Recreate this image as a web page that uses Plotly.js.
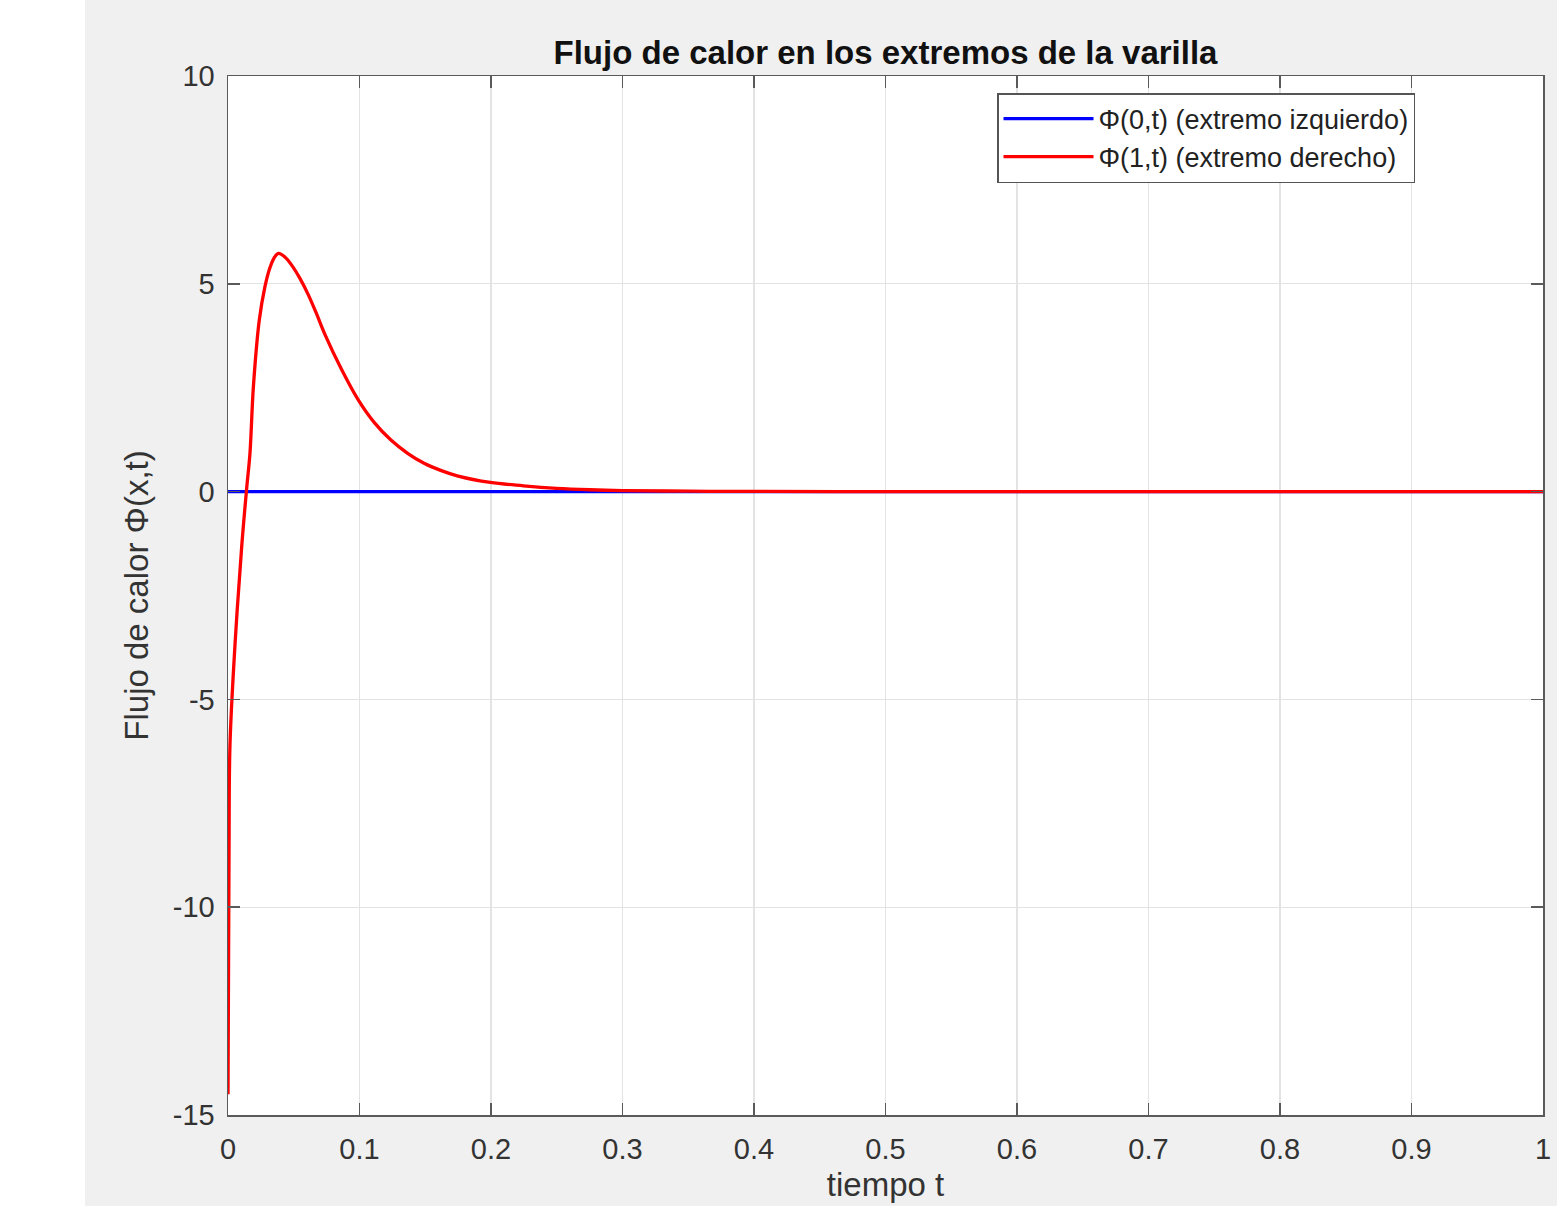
<!DOCTYPE html>
<html>
<head>
<meta charset="utf-8">
<script src="https://cdn.plot.ly/plotly-3.0.1.min.js"></script>
<style>
  html, body { margin: 0; padding: 0; background: #ffffff; }
  #chart { position: absolute; left: 85px; top: 0; width: 1472px; height: 1206px; }
</style>
</head>
<body>
<div id="chart"></div>
<script>
// Data
const tLeft = [0, 1];
const phiLeft = [0, 0];

const tRight = [0, 0.0008, 0.0015, 0.0053, 0.0104, 0.0142, 0.0167, 0.0193, 0.0238, 0.0281,
                0.0315, 0.035, 0.0383, 0.0434, 0.0484, 0.0547, 0.061, 0.0673, 0.0736, 0.0862,
                0.0988, 0.1113, 0.1239, 0.1366, 0.1491, 0.1617, 0.1743, 0.1995, 0.2246, 0.2498,
                0.275, 0.3, 0.35, 0.4, 0.5, 0.6, 0.8, 1.0];
const phiRight = [-14.5, -8.5, -6.1, -3.7, -1.33, 0.08, 0.92, 2.52, 4.13, 4.93,
                  5.35, 5.62, 5.73, 5.64, 5.45, 5.13, 4.74, 4.28, 3.79, 2.95,
                  2.22, 1.66, 1.24, 0.92, 0.68, 0.51, 0.38, 0.22, 0.14, 0.08,
                  0.045, 0.025, 0.01, 0.004, 0.001, 0, 0, 0];

const xTicks = [0, 0.1, 0.2, 0.3, 0.4, 0.5, 0.6, 0.7, 0.8, 0.9, 1];
const xTickText = ['0', '0.1', '0.2', '0.3', '0.4', '0.5', '0.6', '0.7', '0.8', '0.9', '1'];
const yTicks = [-15, -10, -5, 0, 5, 10];
const yTickText = ['-15', '-10', '-5', '0', '5', '10'];

const seriesNames = ['Φ(0,t) (extremo izquierdo)', 'Φ(1,t) (extremo derecho)'];

const FONT = 'Liberation Sans, Arial, Helvetica, sans-serif';

const traces = [
  { x: tLeft, y: phiLeft, type: 'scatter', mode: 'lines', name: seriesNames[0],
    line: { color: '#0000ff', width: 3.3 } },
  { x: tRight, y: phiRight, type: 'scatter', mode: 'lines', name: seriesNames[1],
    line: { color: '#ff0000', width: 3.3, shape: 'spline', smoothing: 1, simplify: false } }
];

const axisCommon = {
  showline: true, linecolor: '#5a5a5a', linewidth: 1.5, mirror: 'allticks',
  ticks: 'inside', ticklen: 12, tickwidth: 1.5, tickcolor: '#5a5a5a',
  showgrid: true, gridcolor: '#e3e3e3', gridwidth: 1.2,
  zeroline: false,
  tickfont: { family: FONT, size: 29, color: '#333333' },
  tickmode: 'array'
};

const layout = {
  width: 1472, height: 1206,
  paper_bgcolor: '#f0f0f0', plot_bgcolor: '#ffffff',
  margin: { l: 143, r: 14, t: 76, b: 91 },
  title: { text: 'Flujo de calor en los extremos de la varilla',
           font: { family: FONT, size: 33, color: '#111111', weight: 'bold' },
           x: 0.5, xref: 'paper', xanchor: 'center', y: 1 - 52 / 1206, yanchor: 'middle' },
  xaxis: Object.assign({}, axisCommon, {
    range: [0, 1], tickvals: xTicks, ticktext: xTickText,
    ticklabelstandoff: 8,
    title: { text: 'tiempo t', font: { family: FONT, size: 33, color: '#333333' }, standoff: 8 }
  }),
  yaxis: Object.assign({}, axisCommon, {
    range: [-15, 10], tickvals: yTicks, ticktext: yTickText,
    ticklabelstandoff: 6,
    title: { text: 'Flujo de calor Φ(x,t)', font: { family: FONT, size: 33, color: '#333333' }, standoff: 14 }
  }),
  showlegend: true,
  legend: {
    x: (997 - 228) / 1315, y: 1 - (93 - 76) / 1039, xanchor: 'left', yanchor: 'top',
    bgcolor: '#ffffff', bordercolor: '#555555', borderwidth: 1.5,
    font: { family: FONT, size: 27, color: '#222222' },
    itemwidth: 90, tracegroupgap: 0
  }
};

Plotly.newPlot('chart', traces, layout, { displayModeBar: false, staticPlot: true });
</script>
</body>
</html>
